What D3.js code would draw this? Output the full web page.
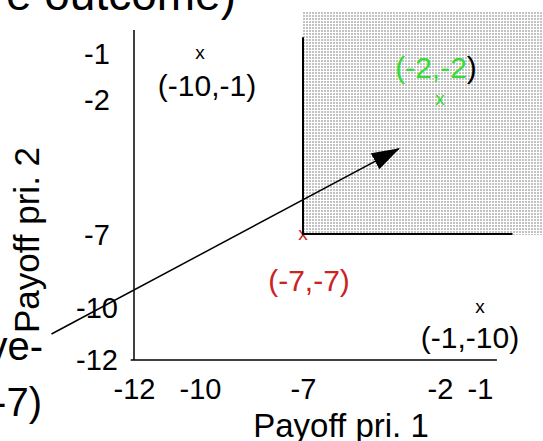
<!DOCTYPE html>
<html>
<head>
<meta charset="utf-8">
<script src="https://cdn.jsdelivr.net/npm/d3@7"></script>
<style>
  html, body { margin: 0; padding: 0; background: #fff; overflow: hidden; }
  svg { display: block; font-family: "Liberation Sans", Arial, sans-serif; }
</style>
</head>
<body>
<div id="chart"></div>
<script>
// tick values on both axes (uneven spacing, as on the slide)
var xTicks = [-12, -10, -7, -2, -1];
var yTicks = [-12, -10, -7, -2, -1];

// outcomes: payoff of prisoner 1 and prisoner 2
var payoff1 = [-10, -2, -7, -1];
var payoff2 = [-1, -2, -7, -10];
var outcomeLabels = ["(-10,-1)", "(-2,-2)", "(-7,-7)", "(-1,-10)"];

// region better than (-7,-7) for both, and the arrow pointing into it
var betterFrom = [-7, -7];
var arrowFrom = [-14.5, -11];
var arrowTo = [-3.5, -3.8];

function drawChart() {
    var w = 543, h = 441;

    var svg = d3.select("#chart").append("svg")
        .attr("width", w)
        .attr("height", h);

    // piecewise scales, the slide axis is not evenly spaced
    var x = d3.scaleLinear()
        .domain([-12, -10, -7, -2, -1, 0])
        .range([134, 200, 303, 440, 480, 545]);
    var y = d3.scaleLinear()
        .domain([-12, -10, -7, -2, -1, 0])
        .range([360, 308, 235, 100, 54, 12]);

    var colors = ["#000", "#33dd33", "#cc2222", "#000"];
    var labelDx = [7, -4, 6, -10];
    var labelDy = [42, -22, 56, 40];
    var plain = function (d) { return String(d); };  // hyphen, not unicode minus

    var defs = svg.append("defs");
    var pat = defs.append("pattern")
        .attr("id", "dots")
        .attr("width", 3).attr("height", 3)
        .attr("patternUnits", "userSpaceOnUse");
    pat.append("rect").attr("width", 3).attr("height", 3).attr("fill", "#fff");
    pat.append("rect").attr("width", 2).attr("height", 2).attr("fill", "#c2c2c2");

    defs.append("marker")
        .attr("id", "head")
        .attr("markerUnits", "userSpaceOnUse")
        .attr("markerWidth", 28).attr("markerHeight", 18)
        .attr("refX", 27).attr("refY", 9)
        .attr("orient", "auto")
        .append("path")
        .attr("d", "M0,0 L28,9 L0,18 Z")
        .attr("fill", "#000");

    // slide text cut off by the crop
    svg.append("text")
        .attr("x", 236).attr("y", 10)
        .attr("text-anchor", "end")
        .style("font-size", "46px")
        .text("e outcome)");
    svg.append("text")
        .attr("x", 43).attr("y", 360)
        .attr("text-anchor", "end")
        .style("font-size", "40px")
        .text("ve-");
    svg.append("text")
        .attr("x", 42).attr("y", 416)
        .attr("text-anchor", "end")
        .style("font-size", "40px")
        .text("-7)");

    var idx = payoff1.map(function (d, i) { return i; });
    var inside = function (i) { return payoff1[i] > betterFrom[0] && payoff2[i] > betterFrom[1]; };

    function addMarkers(g, list) {
        g.selectAll("text")
            .data(list)
            .enter().append("text")
            .attr("x", function (i) { return x(payoff1[i]); })
            .attr("y", function (i) { return y(payoff2[i]) + 5; })
            .attr("text-anchor", "middle")
            .attr("fill", function (i) { return colors[i]; })
            .style("font-size", "19px")
            .text("x");
    }

    // markers outside the region sit under it (the (-7,-7) x is half hidden)
    addMarkers(svg.append("g"), idx.filter(function (i) { return !inside(i); }));

    // shaded region
    svg.append("rect")
        .attr("x", x(betterFrom[0]))
        .attr("y", y(0))
        .attr("width", x(0) - x(betterFrom[0]))
        .attr("height", y(betterFrom[1]) - y(0))
        .attr("fill", "url(#dots)");

    svg.append("line")
        .attr("x1", x(betterFrom[0])).attr("x2", x(betterFrom[0]))
        .attr("y1", y(betterFrom[1])).attr("y2", y(-0.6))
        .attr("stroke", "#000").attr("stroke-width", 2);
    svg.append("line")
        .attr("x1", x(betterFrom[0])).attr("x2", x(-0.5))
        .attr("y1", y(betterFrom[1]) - 1).attr("y2", y(betterFrom[1]) - 1)
        .attr("stroke", "#000").attr("stroke-width", 2);

    addMarkers(svg.append("g"), idx.filter(inside));

    // outcome labels
    svg.append("g").selectAll("text")
        .data(idx)
        .enter().append("text")
        .attr("x", function (i) { return x(payoff1[i]) + labelDx[i]; })
        .attr("y", function (i) { return y(payoff2[i]) + labelDy[i]; })
        .attr("text-anchor", "middle")
        .attr("fill", function (i) { return colors[i]; })
        .style("font-size", "30px")
        .each(function (i) {
            var t = d3.select(this);
            var s = outcomeLabels[i];
            if (i === 1) {
                // closing bracket stayed black on the slide
                t.append("tspan").text(s.slice(0, -1));
                t.append("tspan").attr("fill", "#000").text(s.slice(-1));
            } else {
                t.text(s);
            }
        });

    // axes
    var xAxis = d3.axisBottom(x).tickValues(xTicks).tickSize(0).tickPadding(18)
        .tickFormat(plain);
    var gx = svg.append("g")
        .attr("transform", "translate(0," + y(-12) + ")")
        .call(xAxis);
    gx.select(".domain").remove();
    gx.selectAll("text")
        .style("font-size", "29px")
        .style("font-family", "'Liberation Sans', Arial, sans-serif")
        .attr("fill", "#000");

    var yAxis = d3.axisLeft(y).tickValues(yTicks).tickSize(0)
        .tickFormat(plain);
    var gy = svg.append("g")
        .attr("transform", "translate(" + x(-12) + ",0)")
        .call(yAxis);
    gy.select(".domain").remove();
    gy.selectAll("text")
        .attr("text-anchor", "middle")
        .attr("x", 97 - x(-12))
        .style("font-size", "29px")
        .style("font-family", "'Liberation Sans', Arial, sans-serif")
        .attr("fill", "#000");

    svg.append("line")
        .attr("x1", x(-12)).attr("x2", x(-12))
        .attr("y1", y(-12)).attr("y2", y(-0.43))
        .attr("stroke", "#000").attr("stroke-width", 1.5);
    svg.append("line")
        .attr("x1", x(-12.1)).attr("x2", x(-0.74))
        .attr("y1", y(-12)).attr("y2", y(-12))
        .attr("stroke", "#000").attr("stroke-width", 1.5);

    svg.append("text")
        .attr("x", 341).attr("y", 437)
        .attr("text-anchor", "middle")
        .style("font-size", "33px")
        .text("Payoff pri. 1");
    svg.append("text")
        .attr("transform", "translate(39,240) rotate(-90)")
        .attr("text-anchor", "middle")
        .style("font-size", "35px")
        .text("Payoff pri. 2");

    // arrow into the better region
    svg.append("line")
        .attr("x1", x(arrowFrom[0])).attr("y1", y(arrowFrom[1]))
        .attr("x2", x(arrowTo[0])).attr("y2", y(arrowTo[1]))
        .attr("stroke", "#000").attr("stroke-width", 1.5)
        .attr("marker-end", "url(#head)");
}

drawChart();
</script>
</body>
</html>
